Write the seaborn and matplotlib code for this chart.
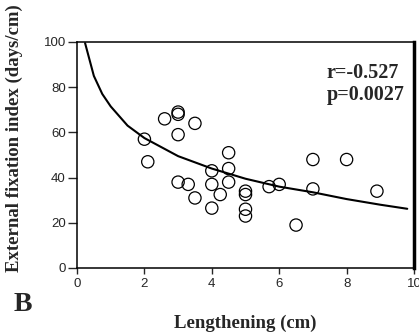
import matplotlib
matplotlib.use("Agg")
import matplotlib.pyplot as plt
import seaborn as sns
import pandas as pd

# valeurs
lengthening = [2.0, 2.1, 2.6, 3.0, 3.0, 3.0, 3.5, 3.0, 3.3, 3.5,
               4.0, 4.0, 4.0, 4.25, 4.5, 4.5, 4.5, 5.0, 5.0, 5.0,
               5.0, 5.7, 6.0, 6.5, 7.0, 7.0, 8.0, 8.9]
fixation_index = [57, 47, 66, 69, 68, 59, 64, 38, 37, 31,
                  43, 37, 26.5, 32.5, 51, 44, 38, 34, 32.5, 26,
                  23, 36, 37, 19, 48, 35, 48, 34]

# courbe de tendance (points relevés)
curve_x = [0.24, 0.5, 0.75, 1.0, 1.5, 2.0, 3.0, 4.0, 5.0, 6.0, 7.0, 8.0, 9.0, 9.8]
curve_y = [99.5, 85, 77, 71.5, 63, 57.5, 49.5, 44, 39.5, 36, 33.5, 30.5, 28, 26.2]

x_ticks = [0, 2, 4, 6, 8, 10]
y_ticks = [0, 20, 40, 60, 80, 100]

df = pd.DataFrame({"x": lengthening, "y": fixation_index})
curve = pd.DataFrame({"x": curve_x, "y": curve_y})

sns.set_style("white")
plt.rcParams["font.family"] = ["Liberation Sans", "DejaVu Sans"]

fig = plt.figure(figsize=(4.19, 3.32), dpi=100)
ax = fig.add_axes([77 / 419, 1 - 268 / 332, 337 / 419, 226 / 332])

sns.lineplot(data=curve, x="x", y="y", color="black", linewidth=1.5, ax=ax)
sns.scatterplot(data=df, x="x", y="y", s=78, facecolor="none",
                edgecolor="black", linewidth=0.9, ax=ax)

ax.set_xlim(0, 10)
ax.set_ylim(0, 100)
ax.set_xticks(x_ticks)
ax.set_yticks(y_ticks)
ax.tick_params(axis="y", direction="out", length=6.5, width=1, pad=1.5,
               labelsize=9.5, left=True)
ax.tick_params(axis="x", direction="out", length=4, width=1, pad=3.5,
               labelsize=9.5, bottom=True)

serif = {"family": ["Liberation Serif", "DejaVu Serif"], "weight": "bold"}
ax.set_xlabel("Lengthening (cm)", fontdict=serif, fontsize=13.5, va="center")
ax.set_ylabel("External fixation index (days/cm)", fontdict=serif,
              fontsize=13.5, va="center")
ax.xaxis.set_label_coords(0.5, -0.245)
ax.yaxis.set_label_coords(-0.187, 0.575)

for side in ["left", "bottom", "top"]:
    ax.spines[side].set_color("black")
    ax.spines[side].set_linewidth(1.1)
ax.spines["right"].set_color("black")
ax.spines["right"].set_linewidth(2.5)

ax.text(0.74, 0.905, "r=-0.527\np=0.0027", transform=ax.transAxes,
        fontdict=serif, fontsize=14.5, va="top", ha="left", linespacing=1.1)
fig.text(14 / 419, 1 - 311 / 332, "B", fontdict=serif, fontsize=20,
         ha="left", va="baseline")

plt.savefig("out.png", dpi=100)
